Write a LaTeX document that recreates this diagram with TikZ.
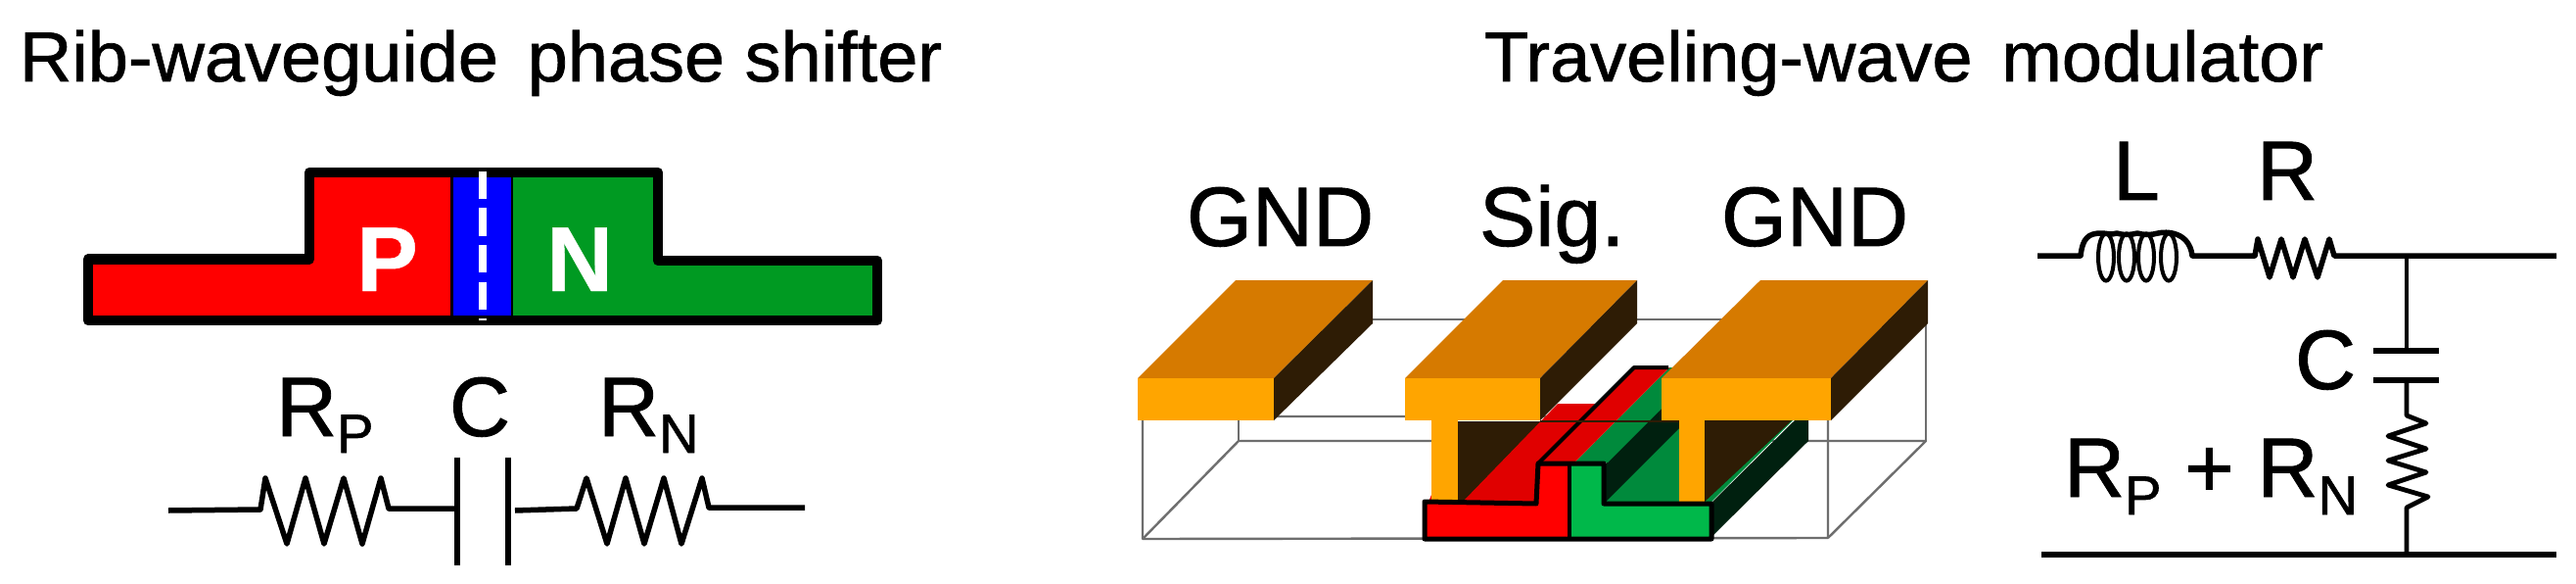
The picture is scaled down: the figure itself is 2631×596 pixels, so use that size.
\documentclass[tikz,border=0pt]{standalone}
\usepackage{fontspec}
\setmainfont[RawFeature={embolden=1.0}]{Liberation Sans}
\newfontfamily\pnfont[RawFeature={embolden=0.5}]{Liberation Sans Bold}
\definecolor{pred}{HTML}{FF0000}
\definecolor{pblue}{HTML}{0000FF}
\definecolor{ngreen}{HTML}{009A22}
\definecolor{autop}{HTML}{D67A00}
\definecolor{aufront}{HTML}{FFA500}
\definecolor{auside}{HTML}{2E1C05}
\definecolor{redtop}{HTML}{E00000}
\definecolor{grnfront}{HTML}{00B84A}
\definecolor{grntop}{HTML}{008A3C}
\definecolor{grnside}{HTML}{00200F}
\definecolor{boxgrey}{HTML}{6E6E6E}
\newcommand{\subs}[2][-17pt]{\raisebox{#1}{\fontsize{56}{56}\selectfont #2}}
\tikzset{
  txt/.style={anchor=base west,inner sep=0pt,outer sep=0pt},
  ttl/.style={txt,font=\fontsize{72}{72}\selectfont},
  lab/.style={txt,font=\fontsize{86}{86}\selectfont},
  pn/.style={anchor=base west,inner sep=0pt,text=white,font=\fontsize{94}{94}\pnfont},
  wire/.style={draw=black,line width=5.5pt,line join=round},
  thin wire/.style={draw=black,line width=4.8pt,line join=round},
  boxline/.style={draw=boxgrey,line width=2.4pt,line join=round},
  outline/.style={draw=black,line width=5pt,line join=round},
}
\newcommand{\electrode}[6]{%
  \fill[autop] (#1,386) -- (#2,386) -- (#4,286) -- (#3,286) -- cycle;
  \fill[aufront] (#1,386) rectangle (#2,429);
  \fill[auside] (#2,386) -- (#4,286) -- (#4,330) -- (#2,429) -- cycle;
  \ifx#5\relax\else\fill[aufront] (#5,429) rectangle (#6,512);\fi
}
\begin{document}
\begin{tikzpicture}[x=1pt,y=-1pt]
\useasboundingbox (0,0) rectangle (2631,596);
\fill[white] (0,0) rectangle (2631,596);
% titles
\node[ttl,xscale=1.027] (t1) at (20,83) {Rib-waveguide\hspace{9pt} phase shifter};
\node[ttl,xscale=1.027] (t2) at (1516,83) {Traveling-wave\hspace{9pt} modulator};
% phase shifter cross-section
\fill[pred] (90,264.5) -- (316,264.5) -- (316,176) -- (493,176) -- (493,327) -- (90,327) -- cycle;
\fill[ngreen] (493,176) -- (672,176) -- (672,266) -- (896,266) -- (896,327) -- (493,327) -- cycle;
\fill[pblue] (463,176) rectangle (522,327);
\draw[black,line width=2.5pt] (461.5,176) -- (461.5,327) (523,176) -- (523,327);
\draw[outline,line width=10.5pt] (90,264.5) -- (316,264.5) -- (316,176) -- (672,176) -- (672,266) -- (896,266) -- (896,327) -- (90,327) -- cycle;
\draw[white,line width=8pt,dash pattern=on 28pt off 9.5pt] (493,175) -- (493,327);
\node[pn] (P) at (364,297) {P};
\node[pn] (N) at (558,297) {N};
% series circuit
\node[lab] (rp) at (282,445) {R\subs{P}};
\node[lab] (c1) at (459,445) {C};
\node[lab] (rn) at (611,445) {R\subs{N}};
\coordinate (a0) at (172,521);
\coordinate (a1) at (466,519);
\coordinate (b0) at (526,521);
\coordinate (b1) at (822,518);
\draw[wire] (a0) -- (266,520) -- (271,488) -- (293,555) -- (312,488) -- (331,555) -- (351,488) -- (370,555) -- (389,488) -- (397,519) -- (a1);
\draw[wire] (467,467) -- (467,577);
\draw[wire] (519,467) -- (519,577);
\draw[wire] (b0) -- (589,519) -- (599,488) -- (620,555) -- (639,488) -- (658,555) -- (678,488) -- (696,555) -- (717,488) -- (724,518) -- (b1);
% box
\draw[boxline] (1167,425) -- (1867,425) -- (1867,549) -- (1167,550) -- cycle;
\draw[boxline] (1167,550) -- (1265,450) -- (1967,450) -- (1867,549);
\draw[boxline] (1265,450) -- (1265,425);
\draw[boxline] (1402,326) -- (1967,326) -- (1967,450);
% device back parts
\fill[auside] (1489,430) rectangle (1573,512);
\fill[redtop] (1494,512) -- (1591,412) -- (1630,412) -- (1571,473) -- (1569,512) -- cycle;
\fill[pred] (1459,512) -- (1462,505) -- (1464,512) -- cycle;
\fill[grntop] (1639,512) -- (1748,512) -- (1848,412) -- (1739,412) -- cycle;
\fill[grnside] (1640,473) -- (1640,512) -- (1740,412) -- (1740,373) -- cycle;
\fill[grntop] (1608,472) -- (1642,472) -- (1739,375) -- (1705,375) -- cycle;
\fill[redtop] (1574,472) -- (1608,472) -- (1705,375) -- (1671,375) -- cycle;
\draw[black,line width=4pt,line join=round] (1571,473) -- (1669,375) -- (1704,375);
\fill[grnside] (1748,513) -- (1748,548) -- (1847,450) -- (1847,429) -- (1833,429) -- cycle;
\fill[auside] (1741,429) -- (1830,429) -- (1741,512) -- cycle;
\draw[auside,line width=2pt] (1573,430) -- (1716,430);
% electrodes
\electrode{1162}{1301}{1262}{1402}{\relax}{}
\electrode{1435}{1573}{1535}{1672}{1462}{1489}
\electrode{1697}{1870}{1798}{1969}{1715}{1741}
% device front
\fill[pred] (1455,512) -- (1455,550) -- (1603,550) -- (1603,473) -- (1571,473) -- (1569,514) -- cycle;
\fill[grnfront] (1603,473) -- (1638,473) -- (1638,514) -- (1748,514) -- (1748,550) -- (1603,550) -- cycle;
\draw[outline] (1455,512) -- (1455,550) -- (1748,550) -- (1748,514) -- (1638,514) -- (1638,473) -- (1571,473) -- (1569,514) -- cycle;
\draw[outline,line width=4pt] (1603,473) -- (1603,550);
% electrode labels
\node[lab] (g1) at (1212,251) {GND};
\node[lab] (sg) at (1511,251) {Sig.};
\node[lab] (g2) at (1758,251) {GND};
% line circuit
\node[lab] (ll) at (2158,204) {L};
\node[lab] (rr) at (2305,204) {R};
\node[lab] (cc) at (2344,397) {C};
\node[lab] (rs) at (2108,507) {R\subs[-18pt]{P} + R\subs[-18pt]{N}};
\coordinate (w0) at (2081,261);
\coordinate (w1) at (2611,261);
\coordinate (w2) at (2458,261);
\coordinate (g0) at (2085,566);
\coordinate (g3) at (2611,566);
\coordinate (g4) at (2458,566);
\draw[wire] (w0) -- (2125,261) .. controls (2127,243) and (2133,238) .. (2146,238)
  .. controls (2152,238) and (2156,240) .. (2162,238) .. controls (2168,240) and (2176,240) .. (2183,238)
  .. controls (2190,240) and (2197,240) .. (2204,238) .. controls (2212,236) and (2236,236) .. (2239,261) -- (2303,261)
  -- (2306,244) -- (2318,283) -- (2330,244) -- (2342,283) -- (2354,244) -- (2367,283) -- (2379,244) -- (2384,261) -- (w1);
\foreach \ex in {2151,2172,2192,2215}{\draw[black,line width=4pt] (\ex,262.5) ellipse [x radius=8pt,y radius=24pt];}
\draw[thin wire] (w2) -- (2458,357);
\draw[wire] (2424,358) -- (2491,358);
\draw[wire] (2424,388) -- (2491,388);
\draw[thin wire] (2458,388) -- (2458,424) -- (2478,432) -- (2439,445) -- (2478,458) -- (2439,470) -- (2478,482) -- (2439,495) -- (2480,507) -- (2458,518) -- (g4);
\draw[wire] (g0) -- (g3);
\end{tikzpicture}
\end{document}
